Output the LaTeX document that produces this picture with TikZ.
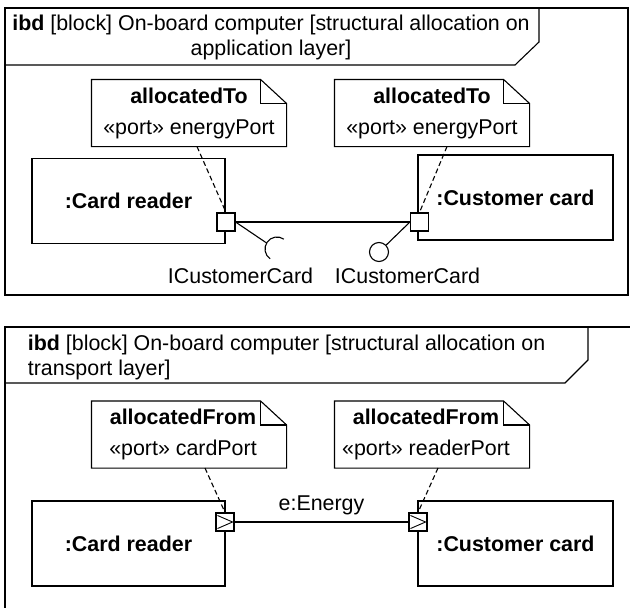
\documentclass[tikz,border=0pt]{standalone}
\usepackage{fontspec}
\setmainfont{Liberation Sans}
\usetikzlibrary{positioning,calc}

\begin{document}
\begin{tikzpicture}[x=1pt, y=-1pt, line width=1.1pt,
    every node/.style={font=\fontsize{21.4}{25}\selectfont},
    block/.style={rectangle, draw, minimum width=193pt, minimum height=85pt,
                  font=\fontsize{21.4}{25}\selectfont\bfseries},
    notebox/.style={rectangle, minimum width=194pt, minimum height=66pt, align=center},
    portbox/.style={rectangle, draw, fill=white, minimum size=18pt, inner sep=0pt},
    lolli/.style={circle, draw, minimum size=19pt, inner sep=0pt},
    dep/.style={dash pattern=on 5pt off 3pt}
]
\useasboundingbox (0,0) rectangle (630,608);

% upper frame: application layer
\draw[line width=1.3pt] (5,8) rectangle (628,295);
\draw (5,65) -- (515,65) -- (539,42) -- (539,8);
\node[align=center] (hd1) at (271,37.5)
    {\textbf{ibd} [block] On-board computer [structural allocation on\\application layer]};

\node[notebox] (n1) at (189,113) {\textbf{allocatedTo}\\[6pt]«port» energyPort};
\node[notebox] (n2) at (432,113) {\textbf{allocatedTo}\\[6pt]«port» energyPort};

\node[block] (cr1) at (128.5,201) {:Card reader};
\node[block, minimum width=195pt] (cc1) at (515.5,197.5) {:Customer card};

\node[portbox] (p1) at (226,222) {};
\node[portbox] (p2) at (419.5,222) {};

\draw (p1.east) -- (p2.west);

% required / provided interface
\coordinate (sock) at (277,249);
\draw (p1.east) -- ($(sock)+(210:12)$);
\draw (sock) ++(125:12) arc[start angle=125, end angle=305, radius=12];
\node[lolli] (prov) at (379,252) {};
\draw (p2.west) -- (prov);

\node (if1) at (240.5,276) {ICustomerCard};
\node (if2) at (407.5,276) {ICustomerCard};

\draw[dep] ([xshift=8]n1.south) -- (p1.north);
\draw[dep] ([xshift=15]n2.south) -- (p2.north);

% lower frame: transport layer
\draw[line width=1.3pt] (630,327) -- (5,327) -- (5,608);
\draw (5,383) -- (565,383) -- (588,360) -- (588,327);
\node[align=left, anchor=west] (hd2) at (24,357.5)
    {\textbf{ibd} [block] On-board computer [structural allocation on\\transport layer]};

\node[notebox] (n3) at (189,434.5)
    {\textbf{allocatedFrom}\hspace*{12pt}\\[6pt]«port» cardPort\hspace*{12pt}};
\node[notebox] (n4) at (432,434.5)
    {\textbf{allocatedFrom}\hspace*{12pt}\\[6pt]«port» readerPort\hspace*{12pt}};

\node[block] (cr2) at (128.5,543.5) {:Card reader};
\node[block, minimum width=195pt] (cc2) at (515.5,543.5) {:Customer card};

\node[portbox] (p3) at (225,522) {};
\node[portbox] (p4) at (418,522) {};
\foreach \p in {p3,p4} {
  \draw[line width=0.9pt] ([shift={(2,3)}]\p.north west) -- ([xshift=-2]\p.east)
        -- ([shift={(2,-3)}]\p.south west);
}

\draw (p3.east) -- node[above=3pt] (flw) {e:Energy} (p4.west);

\draw[dep] ([xshift=16]n3.south) -- (p3.north);
\draw[dep] ([xshift=6]n4.south) -- (p4.north);

% folded note corners
\foreach \n in {n1,n2,n3,n4} {
  \draw (\n.south west) -- (\n.north west) -- ([xshift=-26]\n.north east)
        -- ([yshift=-24]\n.north east) -- (\n.south east) -- cycle;
  \draw ([xshift=-26]\n.north east) -- ([xshift=-26,yshift=-24]\n.north east)
        -- ([yshift=-24]\n.north east);
}
\end{tikzpicture}
\end{document}
